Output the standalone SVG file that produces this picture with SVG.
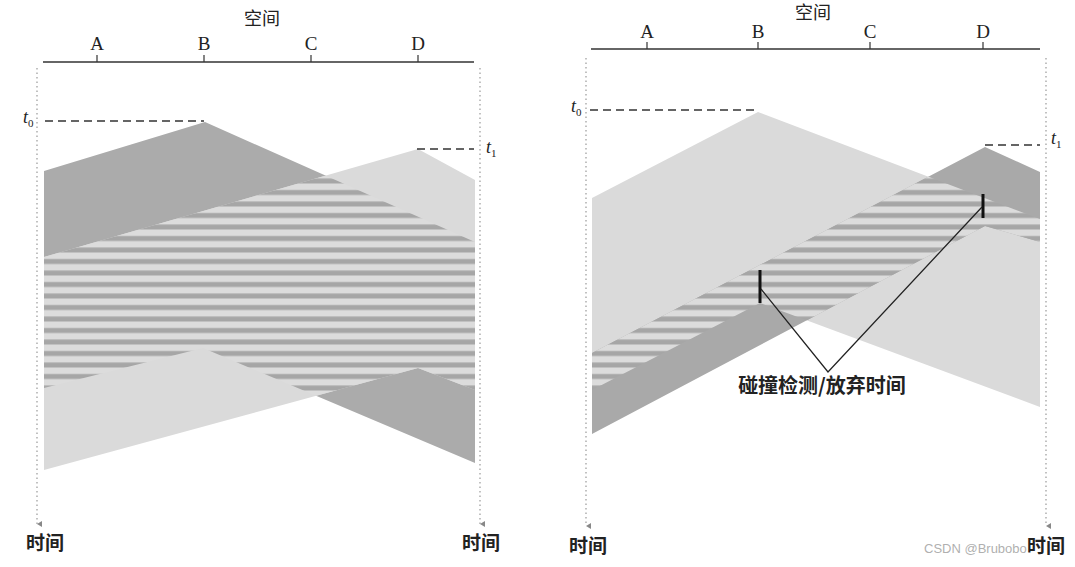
<svg xmlns="http://www.w3.org/2000/svg" width="1075" height="567" viewBox="0 0 1075 567">
<style>
.axis{stroke:#333;stroke-width:1.4;fill:none}
.tick{stroke:#333;stroke-width:1.2}
.dash{stroke:#333;stroke-width:1.3;stroke-dasharray:8 5;fill:none}
.dot{stroke:#999;stroke-width:1.2;stroke-dasharray:1.5 3;fill:none}
.lbl{font-family:"Liberation Serif",serif;font-size:19px;fill:#222;text-anchor:middle}
.cjk{font-family:"Noto Sans CJK SC",sans-serif;font-size:18px;fill:#222;text-anchor:middle}
.time{font-family:"Noto Sans CJK SC",sans-serif;font-size:19px;font-weight:bold;fill:#222;text-anchor:middle}
.cjkb{font-family:"Noto Sans CJK SC",sans-serif;font-size:20px;font-weight:bold;fill:#222;text-anchor:middle}
.tl{font-family:"Liberation Serif",serif;font-style:italic;font-size:18px;fill:#222}
.sub{font-size:11px;font-style:normal}
.dark{fill:#ababab}
.light{fill:#dadada}
.bar{stroke:#111;stroke-width:3}
.ann{stroke:#222;stroke-width:1.3;fill:none}
</style>
<defs>
<pattern id="stripes" patternUnits="userSpaceOnUse" width="20" height="11.5">
<rect width="20" height="11.5" fill="#dcdcdc"/>
<rect y="6" width="20" height="5" fill="#a6a6a6"/>
</pattern>
<marker id="arr" markerWidth="6" markerHeight="6" refX="3" refY="5" orient="auto-start-reverse" markerUnits="userSpaceOnUse">
<path d="M0,0 L6,0 L3,5 Z" fill="#888"/>
</marker>
<clipPath id="clipDL"><polygon points="44,257 418,149 475,180 475,390 418,368 44,470"/></clipPath>
<clipPath id="clipDR"><polygon points="592,353 985,147 1040,172 1040,242 985,226 592,434"/></clipPath>
</defs>

<g id="left-diagram">
<g id="left-signals">
<polygon class="dark" points="44,171 205,122 475,242 475,463 203,348 44,388"/>
<polygon class="light" points="44,257 418,149 475,180 475,390 418,368 44,470"/>
<polygon fill="url(#stripes)" clip-path="url(#clipDL)" points="44,171 205,122 475,242 475,463 203,348 44,388"/>
</g>
<g id="left-axis">
<line class="axis" x1="43" y1="62" x2="474" y2="62"/>
<line class="tick" x1="97" y1="55" x2="97" y2="62"/>
<line class="tick" x1="204" y1="55" x2="204" y2="62"/>
<line class="tick" x1="311" y1="55" x2="311" y2="62"/>
<line class="tick" x1="418" y1="55" x2="418" y2="62"/>
<text class="cjk" x="262" y="25">空间</text>
<text class="lbl" x="97" y="50">A</text>
<text class="lbl" x="204" y="50">B</text>
<text class="lbl" x="311" y="50">C</text>
<text class="lbl" x="418" y="50">D</text>
</g>
<g id="left-time">
<line class="dot" x1="37" y1="68" x2="37" y2="524" marker-end="url(#arr)"/>
<line class="dot" x1="480" y1="68" x2="480" y2="524" marker-end="url(#arr)"/>
<text class="time" x="45" y="550">时间</text>
<text class="time" x="481" y="550">时间</text>
</g>
<g id="left-marks">
<line class="dash" x1="45" y1="121" x2="204" y2="121"/>
<line class="dash" x1="417" y1="149" x2="474" y2="149"/>
<text class="tl" x="23" y="123">t<tspan class="sub" dy="4">0</tspan></text>
<text class="tl" x="486" y="153">t<tspan class="sub" dy="4">1</tspan></text>
</g>
</g>

<g id="right-diagram">
<g id="right-signals">
<polygon class="light" points="592,198 758,112 1040,219 1040,407 760,303 592,390"/>
<polygon fill="#a9a9a9" points="592,353 985,147 1040,172 1040,242 985,226 592,434"/>
<polygon fill="url(#stripes)" clip-path="url(#clipDR)" points="592,198 758,112 1040,219 1040,407 760,303 592,390"/>
</g>
<g id="right-axis">
<line class="axis" x1="591" y1="49" x2="1040" y2="49"/>
<line class="tick" x1="647" y1="42" x2="647" y2="49"/>
<line class="tick" x1="758" y1="42" x2="758" y2="49"/>
<line class="tick" x1="870" y1="42" x2="870" y2="49"/>
<line class="tick" x1="983" y1="42" x2="983" y2="49"/>
<text class="cjk" x="813" y="19">空间</text>
<text class="lbl" x="647" y="38">A</text>
<text class="lbl" x="758" y="38">B</text>
<text class="lbl" x="870" y="38">C</text>
<text class="lbl" x="983" y="38">D</text>
</g>
<g id="right-time">
<line class="dot" x1="586" y1="58" x2="586" y2="526" marker-end="url(#arr)"/>
<line class="dot" x1="1046" y1="58" x2="1046" y2="526" marker-end="url(#arr)"/>
<text class="time" x="588" y="553">时间</text>
<text class="time" x="1046" y="553">时间</text>
</g>
<g id="right-marks">
<line class="dash" x1="590" y1="110" x2="755" y2="110"/>
<line class="dash" x1="985" y1="145" x2="1040" y2="145"/>
<text class="tl" x="571" y="112">t<tspan class="sub" dy="4">0</tspan></text>
<text class="tl" x="1051" y="144">t<tspan class="sub" dy="4">1</tspan></text>
</g>
</g>

<g id="connectors">
<line class="bar" x1="760" y1="270" x2="760" y2="303"/>
<line class="bar" x1="983" y1="194" x2="983" y2="218"/>
<polyline class="ann" points="761,289 828,372 982,207"/>
</g>
<g id="collision-label">
<text class="cjkb" x="822" y="393">碰撞检测/放弃时间</text>
</g>
<text x="924" y="553" font-family="Liberation Sans, Arial, sans-serif" font-size="13" fill="#9a9a9a" fill-opacity="0.8">CSDN @Brubobo</text>
</svg>
